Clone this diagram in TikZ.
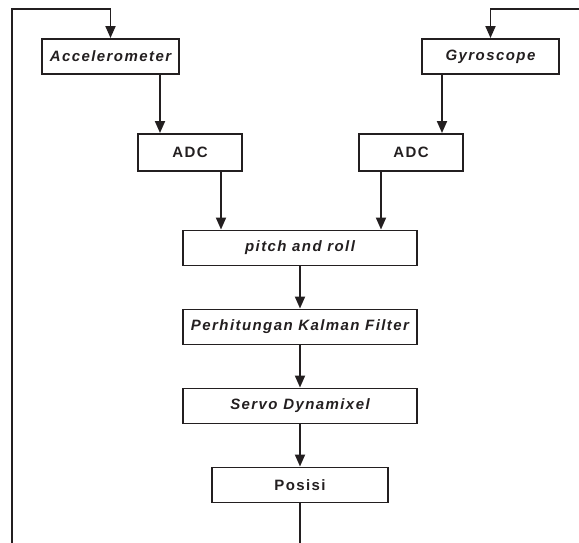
\documentclass[tikz,border=0pt]{standalone}
\usepackage{fontspec}
\setmainfont{Liberation Sans}
\newfontfamily\lblfont[LetterSpace=9.5,
  BoldFont={Liberation Sans Bold},
  BoldItalicFont={Liberation Sans Bold Italic},
  ItalicFont={Liberation Sans Italic}]{Liberation Sans}
\usetikzlibrary{arrows.meta}
\definecolor{ink}{HTML}{231F20}
\tikzset{
  box/.style={draw=ink, line width=1.9pt, minimum height=35pt, inner sep=0pt,
    font=\lblfont\fontsize{15pt}{17pt}\selectfont\bfseries\itshape, text=ink},
  upbox/.style={box, font=\lblfont\fontsize{15pt}{17pt}\selectfont\bfseries},
  conn/.style={draw=ink, line width=1.9pt},
  arr/.style={conn, -{Triangle[width=10pt,length=12pt]}}
}
\begin{document}
\begin{tikzpicture}[x=1pt,y=-1pt]
\useasboundingbox (0,0) rectangle (579,542);
\node[box, minimum width=137pt] (accel) at (110.5,56.5) {Accelerometer};
\node[box, minimum width=137pt] (gyro) at (490.5,56.5) {Gyroscope};
\node[upbox, minimum width=104pt, minimum height=37pt] (adc1) at (190,152.5) {ADC};
\node[upbox, minimum width=104pt, minimum height=37pt] (adc2) at (411,152.5) {ADC};
\node[box, minimum width=234pt] (pitch) at (300,248) {pitch and roll};
\node[box, minimum width=234pt] (kalman) at (300,327) {Perhitungan Kalman Filter};
\node[box, minimum width=234pt] (servo) at (300,406) {Servo Dynamixel};
\node[upbox, minimum width=176pt] (posisi) at (300,485) {Posisi};
\coordinate (lb) at (12,545);
\coordinate (lt) at (12,9);
\coordinate (rt) at (582,9);
\coordinate (pb) at (300,545);
\draw[arr] (lb) -- (lt) -| (accel.north);
\draw[arr] (rt) -| (gyro.north);
\draw[arr] ([xshift=49.5pt]accel.south) -- ([xshift=-30pt]adc1.north);
\draw[arr] ([xshift=-48.5pt]gyro.south) -- ([xshift=31pt]adc2.north);
\draw[arr] ([xshift=31pt]adc1.south) -- ([xshift=-79pt]pitch.north);
\draw[arr] ([xshift=-30pt]adc2.south) -- ([xshift=81pt]pitch.north);
\draw[arr] (pitch) -- (kalman);
\draw[arr] (kalman) -- (servo);
\draw[arr] (servo) -- (posisi);
\draw[conn] (posisi.south) -- (pb);
\end{tikzpicture}
\end{document}
